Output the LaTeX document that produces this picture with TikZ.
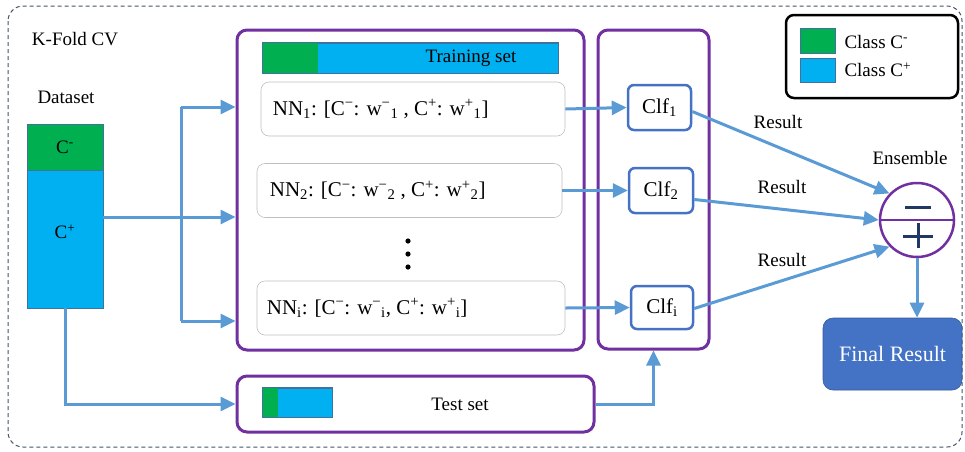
\documentclass[tikz,border=0pt]{standalone}
\usepackage{fontspec}
\setmainfont{Liberation Serif}
\usetikzlibrary{arrows.meta,calc}
\definecolor{cgreen}{HTML}{00B050}
\definecolor{cblue}{HTML}{00B0F0}
\definecolor{carrow}{HTML}{5B9BD5}
\definecolor{cpurple}{HTML}{7030A0}
\definecolor{cclf}{HTML}{4472C4}
\definecolor{cedge}{HTML}{41719C}
\definecolor{cnavy}{HTML}{1F3864}
\definecolor{cdash}{HTML}{44546A}
\tikzset{
  arr/.style={draw=carrow, line width=3pt, -{Triangle[length=15pt,width=14pt]}},
  pline/.style={draw=carrow, line width=3pt},
  purplebox/.style={draw=cpurple, line width=3pt, rounded corners=10pt, minimum width=#1},
  nnbox/.style={draw=black!25, line width=0.6pt, rounded corners=8pt, minimum height=54, inner sep=0pt},
  clfbox/.style={draw=cclf, line width=2.5pt, rounded corners=6pt, fill=white, inner sep=0pt, font=\fontsize{21}{25}\selectfont},
  swatch/.style={draw=cedge, line width=0.6pt, inner sep=0pt},
  txt/.style={inner sep=0pt},
  nntxt/.style={inner sep=0pt, anchor=west, font=\fontsize{21}{25}\selectfont},
}
\begin{document}
\begin{tikzpicture}[x=1pt,y=-1pt, font=\fontsize{19}{23}\selectfont]
\useasboundingbox (0,0) rectangle (965,451);
% outer dashed frame
\draw[cdash, line width=1pt, dash pattern=on 4pt off 3pt, rounded corners=15pt] (8,6) rectangle (962,447);
\node[txt] (kfold) at (75,39) {K-Fold CV};
\node[txt] (dslabel) at (66,97) {Dataset};
% dataset
\node[swatch, fill=cgreen, minimum width=76, minimum height=46] (dsg) at (65,147) {C\textsuperscript{-}};
\node[swatch, fill=cblue, minimum width=76, minimum height=138] (dsb) at (65,239) {};
\node[txt] (dsbt) at ($(dsb.center)+(0,-7)$) {C\textsuperscript{+}};
% training box
\node[purplebox=347, minimum height=320] (train) at (410.5,190) {};
\node[swatch, fill=cblue, minimum width=295, minimum height=30] (tsbar) at (410.5,58) {};
\fill[cgreen] (tsbar.north west) rectangle ++(55,30);
\draw[cedge, line width=0.6pt] (tsbar.north west) rectangle (tsbar.south east);
\node[txt] (tstext) at (471,58) {Training set};
% NN boxes
\node[nnbox, minimum width=304] (nn1) at (413,109) {};
\node[nntxt] (nn1t) at ($(nn1.west)+(12,0)$) {NN\textsubscript{1}: [C\textsuperscript{−}: w\textsuperscript{−}\textsubscript{1} , C\textsuperscript{+}: w\textsuperscript{+}\textsubscript{1}]};
\node[nnbox, minimum width=305] (nn2) at (409.5,190.5) {};
\node[nntxt] (nn2t) at ($(nn2.west)+(13,0)$) {NN\textsubscript{2}: [C\textsuperscript{−}: w\textsuperscript{−}\textsubscript{2} , C\textsuperscript{+}: w\textsuperscript{+}\textsubscript{2}]};
\node[nnbox, minimum width=308] (nni) at (411,308) {};
\node[nntxt] (nnit) at ($(nni.west)+(10,0)$) {NN\textsubscript{i}: [C\textsuperscript{−}: w\textsuperscript{−}\textsubscript{i}, C\textsuperscript{+}: w\textsuperscript{+}\textsubscript{i}]};
\fill (408,241) circle (2.6pt) (408,254) circle (2.6pt) (408,267) circle (2.6pt);
% test box
\node[purplebox=357, minimum height=56] (test) at (415.5,404) {};
\node[swatch, fill=cblue, minimum width=69, minimum height=29] (tebar) at (297.5,402.5) {};
\fill[cgreen] (tebar.north west) rectangle ++(15,29);
\draw[cedge, line width=0.6pt] (tebar.north west) rectangle (tebar.south east);
\node[txt] (tetext) at (460,404) {Test set};
% classifier column
\node[purplebox=111, minimum height=319] (col) at (653.5,189.5) {};
\node[clfbox, minimum width=63, minimum height=45] (clf1) at (659.5,107.5) {Clf\textsubscript{1}};
\node[clfbox, minimum width=64, minimum height=45] (clf2) at (661,190.5) {Clf\textsubscript{2}};
\node[clfbox, minimum width=62, minimum height=43] (clfi) at (662,307.5) {Clf\textsubscript{i}};
% ensemble
\node[circle, draw=cpurple, line width=2.5pt, minimum size=74, inner sep=0pt] (ens) at (917,220) {};
\draw[cpurple, line width=2.5pt] (ens.west) -- (ens.east);
\draw[cnavy, line width=3pt] ($(ens)+(-12,-13)$) -- ($(ens)+(14,-13)$);
\draw[cnavy, line width=3pt] ($(ens)+(-14,16)$) -- ($(ens)+(16,16)$);
\draw[cnavy, line width=3pt] ($(ens)+(1,3)$) -- ($(ens)+(1,28)$);
\node[txt] (enslabel) at (910,158) {Ensemble};
% final result
\node[fill=cclf, draw=cclf!80!black, line width=0.6pt, rounded corners=10pt, minimum width=139, minimum height=72, text=white, font=\fontsize{22}{26}\selectfont] (final) at (892.5,354) {Final Result};
% legend
\draw[black, line width=2.5pt, rounded corners=8pt] (786,15) rectangle (958,98);
\node[swatch, fill=cgreen, minimum width=35, minimum height=25] (lg) at (817.5,40.5) {};
\node[swatch, fill=cblue, minimum width=35, minimum height=24] (lb) at (817.5,70) {};
\node[txt, anchor=west] (lgt) at ($(lg.east)+(9,1)$) {Class C\textsuperscript{-}};
\node[txt, anchor=west] (lbt) at ($(lb.east)+(9,0)$) {Class C\textsuperscript{+}};
% connectors: dataset to training
\coordinate (j1) at (181,107);
\coordinate (j2) at (181,321);
\draw[arr] (j1) -- (train.west |- j1);
\draw[pline] (j1) -- (j2);
\draw[arr] (j2) -- (train.west |- j2);
\draw[arr] ($(dsb.east)+(0,-22)$) -- (train.west |- {$(dsb.east)+(0,-22)$});
\draw[arr] (dsb.south) |- (test.west);
% test to classifier column
\draw[arr] (test.east) -| (col.south);
% NN to classifiers
\draw[arr] (nn1.east) -- (clf1.west);
\draw[arr] (nn2.east) -- (clf2.west);
\draw[arr] (nni.east) -- (clfi.west);
% classifiers to ensemble
\draw[arr] ($(clf1.east)+(0,4)$) -- (ens.136);
\draw[arr] ($(clf2.east)+(0,9)$) -- (ens.180);
\draw[arr] ($(clfi.east)+(0,1)$) -- (ens.224);
\node[txt] (r1) at (778,122) {Result};
\node[txt] (r2) at (782,187) {Result};
\node[txt] (r3) at (782,260) {Result};
% ensemble to final
\draw[arr] (ens.south) -- (final.north -| ens.south);
\end{tikzpicture}
\end{document}
